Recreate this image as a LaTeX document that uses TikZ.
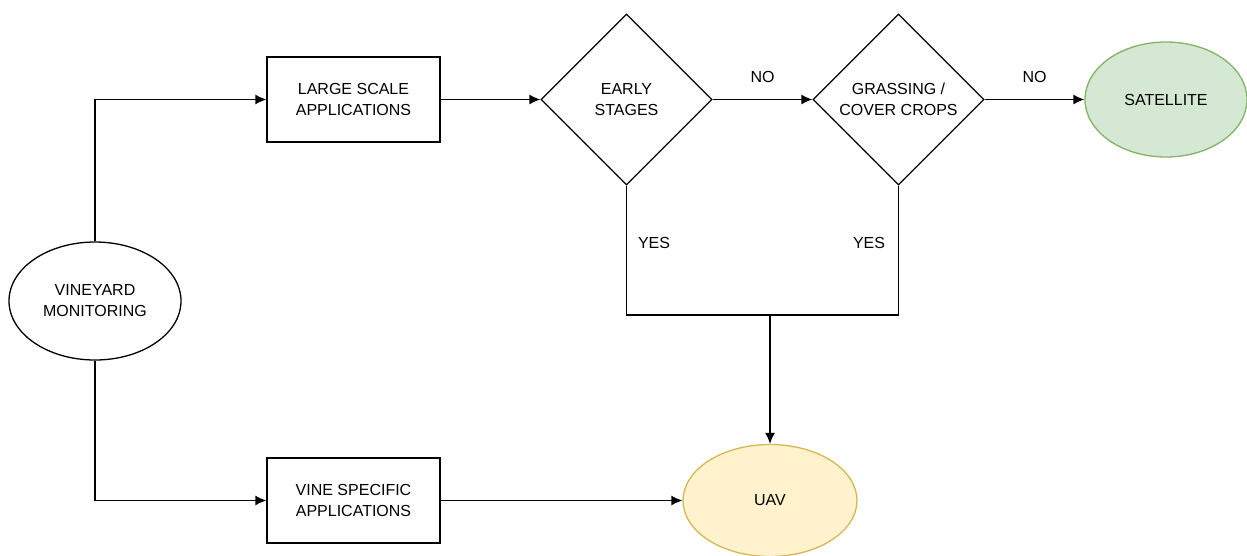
\documentclass[tikz,border=0pt]{standalone}
\usepackage{fontspec}
\setmainfont{Liberation Sans}
\usetikzlibrary{arrows.meta}
\usetikzlibrary{shapes.geometric}
\usetikzlibrary{positioning}
\definecolor{satfill}{HTML}{D5E8D4}
\definecolor{satline}{HTML}{82B366}
\definecolor{uavfill}{HTML}{FFF2CC}
\definecolor{uavline}{HTML}{D6B656}
\tikzset{
  txt/.style={font=\fontsize{16}{21}\selectfont, align=center},
  box/.style={txt, draw, line width=1.3pt, minimum width=173pt, minimum height=85pt, inner sep=0pt},
  decision/.style={txt, draw, diamond, aspect=1, line width=1.3pt, minimum size=171pt, inner sep=0pt},
  oval/.style={txt, draw, ellipse, line width=1.3pt, inner sep=0pt},
  flow/.style={line width=1.3pt, -{Latex[length=11pt,width=10pt]}}
}
\begin{document}
\begin{tikzpicture}[x=1pt, y=-1pt]
    \useasboundingbox (0,0) rectangle (1247,555);
    \node [oval, minimum width=172pt, minimum height=118pt] (vineyard) at (95, 301) {VINEYARD\\MONITORING};
    \node [box] (large) at (353.5, 99.5) {LARGE SCALE\\APPLICATIONS};
    \node [box] (vine) at (353.5, 500.5) {VINE SPECIFIC\\APPLICATIONS};
    \node [decision] (early) at (626.5, 99.5) {EARLY\\STAGES};
    \node [decision] (grass) at (898.5, 99.5) {GRASSING /\\COVER CROPS};
    \node [oval, fill=satfill, draw=satline, minimum width=162pt, minimum height=115pt] (sat) at (1166, 99.5) {SATELLITE};
    \node [oval, fill=uavfill, draw=uavline, minimum width=174pt, minimum height=112pt] (uav) at (770, 500.5) {UAV};

    \draw [flow] (vineyard.north) |- (large.west);
    \draw [flow] (vineyard.south) |- (vine.west);
    \draw [flow] (large.east) -- (early.west);
    \draw [flow] (early.east) -- node [txt, above=13pt] {NO} (grass.west);
    \draw [flow] (grass.east) -- node [txt, above=13pt] {NO} (sat.west);
    \draw [flow] (vine.east) -- (uav.west);

    \coordinate (join) at (uav.north |- 0, 315);
    \draw [line width=1.3pt] (early.south) |- (join) -| (grass.south);
    \draw [flow] (join) -- (uav.north);
    \node [txt] (yes1) at (654, 243) {YES};
    \node [txt] (yes2) at (869, 243) {YES};
  \end{tikzpicture}
\end{document}
